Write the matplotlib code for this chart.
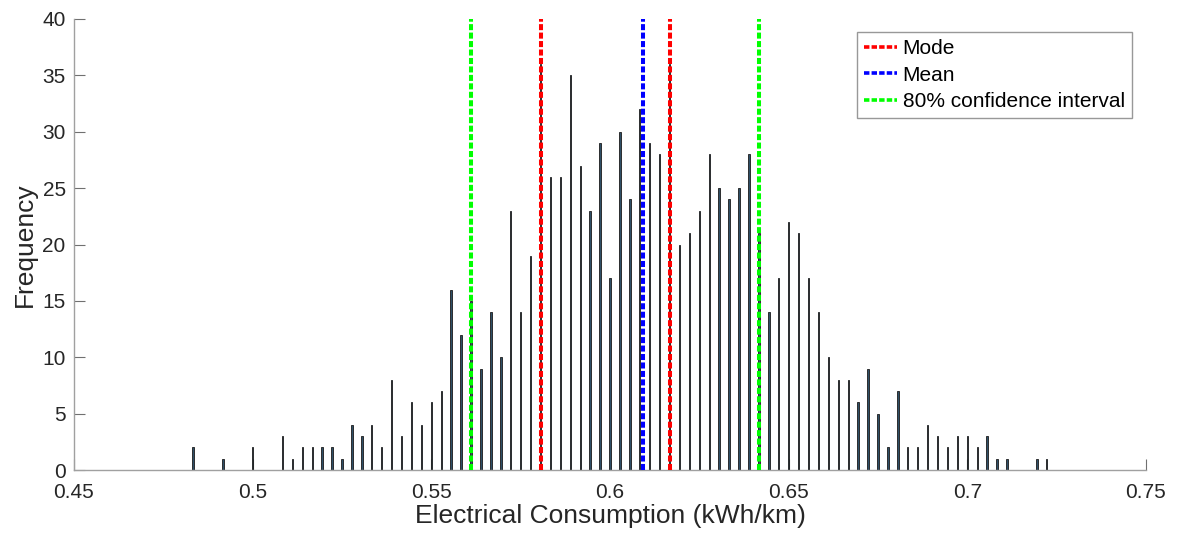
import matplotlib
matplotlib.use("Agg")
import matplotlib.pyplot as plt
import numpy as np
from matplotlib.ticker import FixedLocator, FuncFormatter

plt.rcParams['font.family'] = ['Liberation Sans', 'DejaVu Sans']

# Histogram data: bin centres are k/360 kWh/km
bin_index = list(range(174, 261))
counts = [2, 0, 0, 1, 0, 0, 2, 0, 0, 3,
          1, 2, 2, 2, 2, 1, 4, 3, 4, 2,
          8, 3, 6, 4, 6, 7, 16, 12, 15, 9,
          14, 10, 23, 14, 19, 36, 26, 26, 35, 27,
          23, 29, 17, 30, 24, 32, 29, 28, 36, 20,
          21, 23, 28, 25, 24, 25, 28, 21, 14, 17,
          22, 21, 17, 14, 10, 8, 8, 6, 9, 5,
          2, 7, 2, 2, 4, 3, 2, 3, 3, 2,
          3, 1, 1, 0, 0, 1, 1]
centres = [k / 360 for k in bin_index]

mode_values = [209 / 360, 222 / 360]
mean_value = 0.6093
ci_values = [0.5610, 0.6416]

x_ticks = [0.45, 0.5, 0.55, 0.6, 0.65, 0.7, 0.75]
y_ticks = [0, 5, 10, 15, 20, 25, 30, 35, 40]

fig = plt.figure(figsize=(11.8, 5.39), dpi=100)
ax = fig.add_axes([74 / 1180, 1 - 470 / 539, (1146 - 74) / 1180, (470 - 19) / 539])

ax.bar(centres, counts, width=0.00040, color='#2f4f66', edgecolor='#1a1a1a',
       linewidth=0.6, zorder=2)

ls = (0, (1.5, 0.6))
lw = 2.9
for i, m in enumerate(mode_values):
    ax.plot([m, m], [0, 40], color='#ff0000', linestyle=ls, linewidth=lw,
            dash_capstyle='butt', zorder=3, label='Mode' if i == 0 else None)
ax.plot([mean_value, mean_value], [0, 40], color='#0000ff', linestyle=ls,
        linewidth=lw, dash_capstyle='butt', zorder=3, label='Mean')
for i, c in enumerate(ci_values):
    ax.plot([c, c], [0, 40], color='#00ff00', linestyle=ls, linewidth=lw,
            dash_capstyle='butt', zorder=3,
            label='80% confidence interval' if i == 0 else None)

ax.set_xlim(0.45, 0.75)
ax.set_ylim(0, 40)
ax.xaxis.set_major_locator(FixedLocator(x_ticks))
ax.yaxis.set_major_locator(FixedLocator(y_ticks))
ax.xaxis.set_major_formatter(FuncFormatter(lambda v, p: f"{v:g}"))
ax.yaxis.set_major_formatter(FuncFormatter(lambda v, p: f"{v:g}"))

for side in ['top', 'right']:
    ax.spines[side].set_visible(False)
for side in ['left', 'bottom']:
    ax.spines[side].set_color('#a0a0a0')
    ax.spines[side].set_linewidth(1.0)

ax.tick_params(axis='both', direction='in', length=8, width=0.8,
               color='#707070', labelsize=15, labelcolor='#262626')
ax.tick_params(axis='x', pad=9)
ax.tick_params(axis='y', pad=6)

ax.set_xlabel('Electrical Consumption (kWh/km)', fontsize=19, color='#262626',
              labelpad=2)
ax.set_ylabel('Frequency', fontsize=19, color='#262626', labelpad=4)

leg = ax.legend(loc='upper right', bbox_to_anchor=(1132 / 1180, 1 - 32 / 539),
                bbox_transform=fig.transFigure, borderaxespad=0,
                fontsize=15, frameon=True, fancybox=False, handlelength=1.6,
                handletextpad=0.25, borderpad=0.35, labelspacing=0.35)
for line in leg.get_lines():
    line.set_linewidth(2.6)
leg.get_frame().set_edgecolor('#7f7f7f')
leg.get_frame().set_linewidth(1.0)

fig.savefig('out.png', dpi=100)
